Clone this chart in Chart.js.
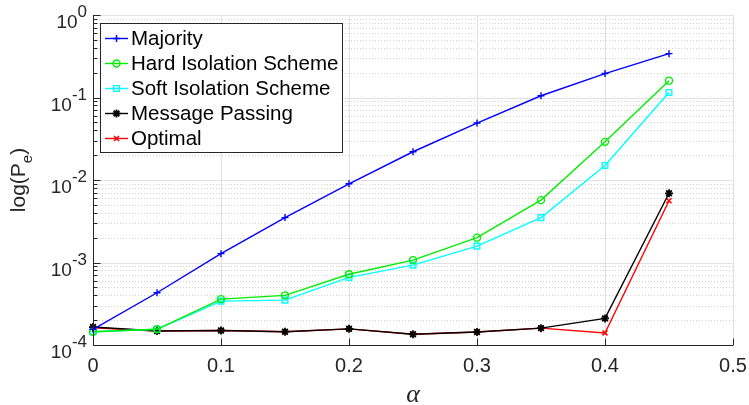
<!DOCTYPE html>
<html>
<head>
<meta charset="utf-8">
<script src="https://cdn.jsdelivr.net/npm/chart.js@4.4.1/dist/chart.umd.min.js"></script>
<style>
  html, body { margin: 0; padding: 0; background: #fff; }
  #wrap { width: 749px; height: 405px; }
</style>
</head>
<body>
<div id="wrap"><canvas id="errChart" width="749" height="405"></canvas></div>
<script>
// values (error probability vs alpha)
var alpha = [0, 0.05, 0.1, 0.15, 0.2, 0.25, 0.3, 0.35, 0.4, 0.45];
var majority = [1.55e-4, 4.3e-4, 1.28e-3, 3.5e-3, 9.0e-3, 0.022, 0.049, 0.105, 0.195, 0.34];
var hardIso = [1.45e-4, 1.55e-4, 3.6e-4, 4.0e-4, 7.2e-4, 1.07e-3, 2.0e-3, 5.7e-3, 0.029, 0.16];
var softIso = [1.45e-4, 1.55e-4, 3.4e-4, 3.5e-4, 6.6e-4, 9.3e-4, 1.58e-3, 3.5e-3, 0.015, 0.115];
var msgPass = [1.65e-4, 1.48e-4, 1.5e-4, 1.45e-4, 1.57e-4, 1.35e-4, 1.44e-4, 1.6e-4, 2.1e-4, 6.9e-3];
var optimal = [1.62e-4, 1.48e-4, 1.5e-4, 1.45e-4, 1.57e-4, 1.35e-4, 1.44e-4, 1.6e-4, 1.4e-4, 5.6e-3];

var xTicks = [0, 0.1, 0.2, 0.3, 0.4, 0.5];
var xTickLabels = ['0', '0.1', '0.2', '0.3', '0.4', '0.5'];
var yTicks = [1e-4, 1e-3, 1e-2, 1e-1, 1];
var yTickExps = ['-4', '-3', '-2', '-1', '0'];

var colors = {
    axis: '#262626',
    grid: '#e1e1e1',
    minor: '#d2d2d2'
};
var sans = '"Liberation Sans", Arial, Helvetica, sans-serif';

function pts(values) {
    return alpha.map(function (a, i) { return { x: a, y: values[i] }; });
}

function series(label, values, color, style, radius, markerWidth) {
    return {
        label: label, data: pts(values), borderColor: color, backgroundColor: 'rgba(0,0,0,0)',
        borderWidth: 1.4, pointStyle: style, pointRadius: radius, pointBorderWidth: markerWidth || 1.4,
        pointBorderColor: color, pointBackgroundColor: 'rgba(0,0,0,0)', tension: 0, clip: false
    };
}

function hline(ctx, x1, x2, y) {
    ctx.beginPath(); ctx.moveTo(x1, y); ctx.lineTo(x2, y); ctx.stroke();
}
function vline(ctx, x, y1, y2) {
    ctx.beginPath(); ctx.moveTo(x, y1); ctx.lineTo(x, y2); ctx.stroke();
}

// MATLAB-like axes: grid, minor grid, inward ticks, superscript labels, legend
var matlabAxes = {
    id: 'matlabAxes',
    beforeDatasetsDraw: function (chart) {
        var ctx = chart.ctx, a = chart.chartArea, xs = chart.scales.x, ys = chart.scales.y;
        ctx.save();
        ctx.lineWidth = 1;
        ctx.strokeStyle = colors.minor;
        ctx.setLineDash([1, 2]);
        for (var d = -4; d < 0; d++) {
            for (var k = 2; k <= 9; k++) {
                var ym = Math.round(ys.getPixelForValue(k * Math.pow(10, d))) + 0.5;
                hline(ctx, a.left, a.right, ym);
            }
        }
        ctx.setLineDash([]);
        ctx.strokeStyle = colors.grid;
        yTicks.forEach(function (v) {
            hline(ctx, a.left, a.right, Math.round(ys.getPixelForValue(v)) + 0.5);
        });
        xTicks.forEach(function (v) {
            vline(ctx, Math.round(xs.getPixelForValue(v)) + 0.5, a.top, a.bottom);
        });
        ctx.restore();
    },
    afterDatasetsDraw: function (chart) {
        var ctx = chart.ctx, a = chart.chartArea, xs = chart.scales.x, ys = chart.scales.y;
        var L = Math.round(a.left) + 0.5, B = Math.round(a.bottom) + 0.5;
        ctx.save();
        ctx.lineWidth = 1;
        ctx.strokeStyle = colors.axis;
        vline(ctx, L, a.top, B);
        hline(ctx, L, a.right, B);

        // y ticks (major + minor), inward
        yTicks.forEach(function (v) {
            hline(ctx, L, L + 7, Math.round(ys.getPixelForValue(v)) + 0.5);
        });
        for (var d = -4; d < 0; d++) {
            for (var k = 2; k <= 9; k++) {
                hline(ctx, L, L + 4, Math.round(ys.getPixelForValue(k * Math.pow(10, d))) + 0.5);
            }
        }
        // x ticks, inward
        xTicks.forEach(function (v) {
            vline(ctx, Math.round(xs.getPixelForValue(v)) + 0.5, B, B - 7);
        });

        // tick labels
        ctx.fillStyle = colors.axis;
        ctx.textBaseline = 'alphabetic';
        ctx.textAlign = 'center';
        ctx.font = '20px ' + sans;
        xTicks.forEach(function (v, i) {
            ctx.fillText(xTickLabels[i], xs.getPixelForValue(v), a.bottom + 27);
        });

        ctx.textAlign = 'left';
        yTicks.forEach(function (v, i) {
            var y = ys.getPixelForValue(v);
            ctx.font = '19px ' + sans;
            var wb = ctx.measureText('10').width;
            ctx.font = '17px ' + sans;
            var ws = ctx.measureText(yTickExps[i]).width;
            var x0 = a.left - 6 - wb - ws;
            ctx.font = '19px ' + sans;
            ctx.fillText('10', x0, y + 13);
            ctx.font = '17px ' + sans;
            ctx.fillText(yTickExps[i], x0 + wb, y + 2);
        });

        // axis titles
        ctx.font = 'italic 26px "Liberation Serif", "DejaVu Serif", serif';
        ctx.textAlign = 'center';
        ctx.fillText('\u03B1', (a.left + a.right) / 2, 402);

        ctx.translate(25, (a.top + a.bottom) / 2);
        ctx.rotate(-Math.PI / 2);
        ctx.textAlign = 'left';
        ctx.font = '21px ' + sans;
        var w1 = ctx.measureText('log(P').width;
        ctx.font = '15px ' + sans;
        var w2 = ctx.measureText('e').width;
        ctx.font = '21px ' + sans;
        var w3 = ctx.measureText(')').width;
        var sx = -(w1 + w2 + w3) / 2;
        ctx.fillText('log(P', sx, 0);
        ctx.font = '15px ' + sans;
        ctx.fillText('e', sx + w1, 7);
        ctx.font = '21px ' + sans;
        ctx.fillText(')', sx + w1 + w2, 0);
        ctx.restore();
    },
    afterDraw: function (chart) {
        var ctx = chart.ctx;
        var box = { x: 100.5, y: 23.5, w: 242, h: 129 };
        ctx.save();
        ctx.fillStyle = '#ffffff';
        ctx.fillRect(box.x, box.y, box.w, box.h);
        ctx.strokeStyle = colors.axis;
        ctx.lineWidth = 1;
        ctx.strokeRect(box.x, box.y, box.w, box.h);
        ctx.font = '20.5px ' + sans;
        ctx.textBaseline = 'middle';
        ctx.textAlign = 'left';
        chart.data.datasets.forEach(function (ds, i) {
            var y = 38.5 + i * 25;
            ctx.strokeStyle = ds.borderColor;
            ctx.lineWidth = ds.borderWidth;
            hline(ctx, 105, 128, y);
            ctx.fillStyle = 'rgba(0,0,0,0)';
            ctx.lineWidth = ds.pointBorderWidth;
            Chart.helpers.drawPoint(ctx, { pointStyle: ds.pointStyle, radius: ds.pointRadius, rotation: 0, borderWidth: ds.pointBorderWidth }, 116.5, y);
            ctx.fillStyle = '#000000';
            ctx.fillText(ds.label, 131, y + 1);
        });
        ctx.restore();
    }
};

new Chart(document.getElementById('errChart'), {
    type: 'line',
    data: {
        datasets: [
            series('Majority', majority, '#0000ff', 'cross', 3.5),
            series('Hard Isolation Scheme', hardIso, '#00ee00', 'circle', 3.5),
            series('Soft Isolation Scheme', softIso, '#00ffff', 'rect', 4),
            series('Message Passing', msgPass, '#000000', 'star', 4, 1.8),
            series('Optimal', optimal, '#ff0000', 'crossRot', 3.5, 1.6)
        ]
    },
    options: {
        responsive: false, animation: false, devicePixelRatio: 1,
        layout: { padding: { top: 15, right: 16, left: 0, bottom: 0 } },
        plugins: { legend: { display: false }, tooltip: { enabled: false } },
        scales: {
            x: {
                type: 'linear', min: 0, max: 0.5,
                grid: { display: false }, border: { display: false }, ticks: { display: false },
                afterFit: function (s) { s.height = 60; }
            },
            y: {
                type: 'logarithmic', min: 1e-4, max: 1,
                grid: { display: false }, border: { display: false }, ticks: { display: false },
                afterFit: function (s) { s.width = 93; }
            }
        }
    },
    plugins: [matlabAxes]
});
</script>
</body>
</html>
